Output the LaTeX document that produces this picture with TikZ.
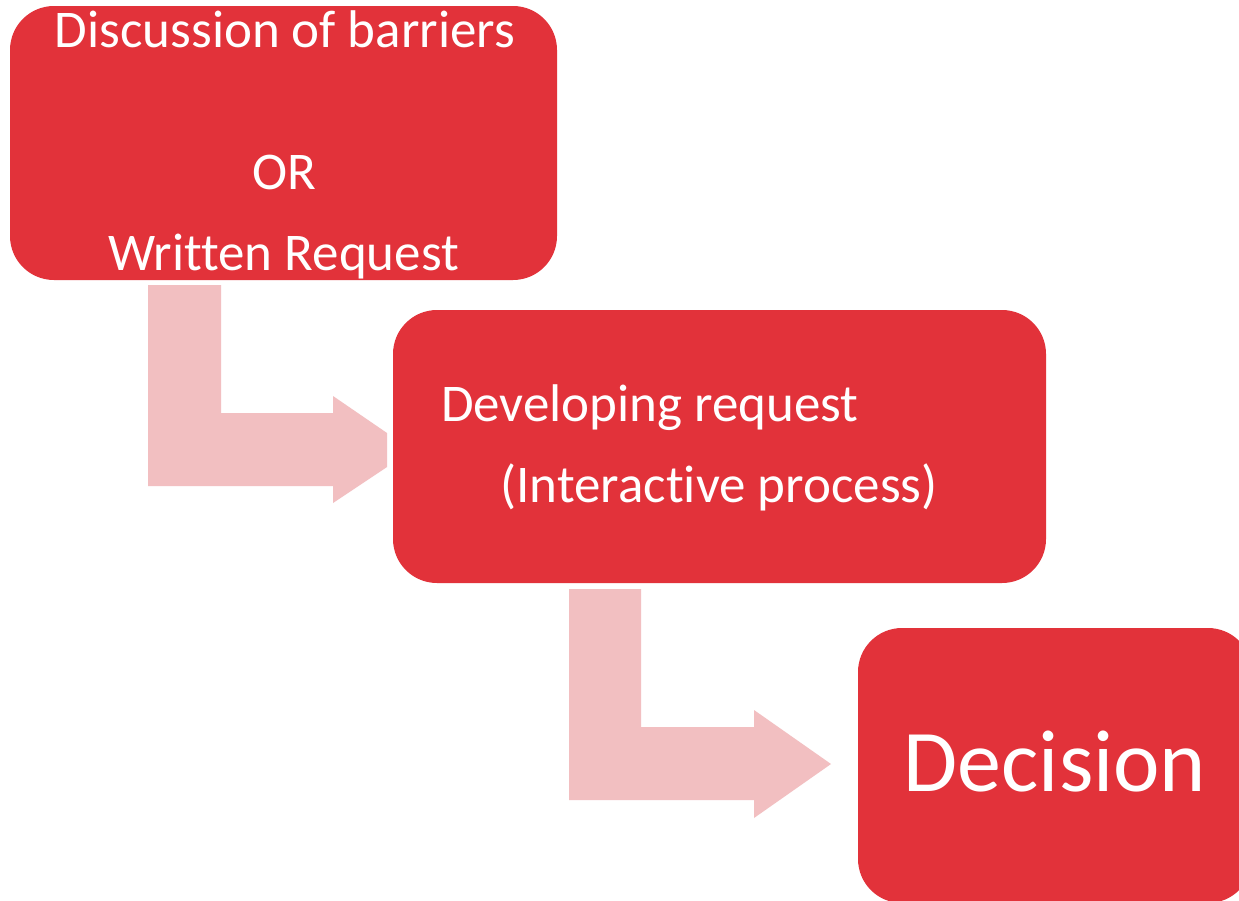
\documentclass[tikz,border=0pt]{standalone}
\usepackage{fontspec}
\setmainfont{Carlito}[Ligatures={NoCommon}]
\definecolor{boxred}{RGB}{226,50,58}
\definecolor{arrowpink}{RGB}{242,191,193}
\begin{document}
\begin{tikzpicture}[x=1pt,y=-1pt,
  stagebox/.style={fill=boxred, draw=none, rounded corners=44pt},
  bentarrow/.style={fill=arrowpink, draw=none},
  stagetext/.style={text=white, inner sep=0pt, font=\fontsize{53}{60}\selectfont},
  bigtext/.style={text=white, inner sep=0pt, font=\fontsize{88}{100}\selectfont}]
  \clip (0,0) rectangle (1239,900);
  \fill[white] (0,0) rectangle (1239,900);

  % bent block arrows between the stages
  \fill[bentarrow] (148,285) -- (221,285) -- (221,413) -- (333,413) -- (333,396)
    -- (387,433) -- (387,467) -- (333,503) -- (333,486) -- (148,486) -- cycle;
  \fill[bentarrow] (569,589) -- (641,589) -- (641,727) -- (754,727) -- (754,710)
    -- (831,764) -- (754,818) -- (754,800) -- (569,800) -- cycle;

  % stage boxes
  \fill[stagebox] (10,6) rectangle (557,280);
  \coordinate (b1) at (283.5,143);
  \fill[stagebox] (393,310) rectangle (1046,583);
  \coordinate (b2) at (719.5,446);
  \fill[stagebox] (858,628) rectangle (1252,903);
  \coordinate (b3) at (1055,765);

  % stage labels
  \node[stagetext, anchor=base] (t1a) at (285,47) {Discussion of barriers};
  \node[stagetext, anchor=base] (t1b) at (284,189) {OR};
  \node[stagetext, anchor=base] (t1c) at (283.5,270) {Written Request};
  \node[stagetext, anchor=base west] (t2a) at (441,421) {Developing request};
  \node[stagetext, anchor=base] (t2b) at (719,502) {(Interactive process)};
  \node[bigtext, anchor=base] (t3) at (1055,791) {Decision};
\end{tikzpicture}
\end{document}
